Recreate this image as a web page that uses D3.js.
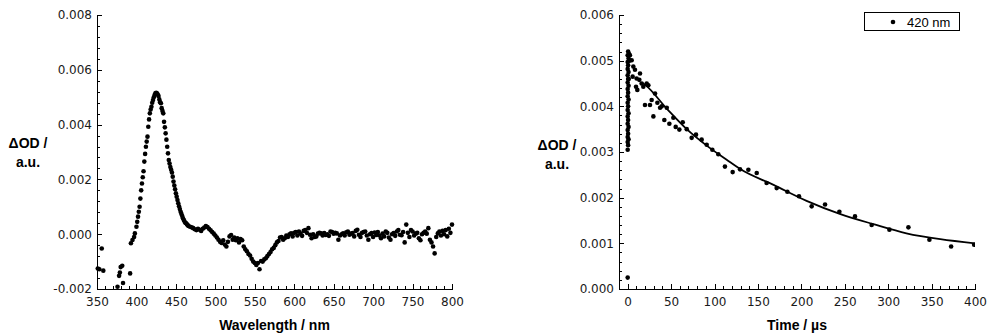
<!DOCTYPE html>
<html>
<head>
<meta charset="utf-8">
<script src="https://cdn.jsdelivr.net/npm/d3@7/dist/d3.min.js"></script>
<style>
  html, body { margin: 0; padding: 0; background: #fff; }
  svg { display: block; }
  .tick text { font-family: "DejaVu Sans", Verdana, sans-serif; font-size: 12px; fill: #1a1a1a; }
  .axis path, .axis line { stroke: #000; stroke-width: 1; shape-rendering: crispEdges; }
  .title { font-family: "Liberation Sans", Arial, sans-serif; font-size: 14px; font-weight: bold; fill: #000; }
</style>
</head>
<body>
<svg id="chart" width="988" height="333"></svg>
<script>
// transient spectrum: wavelength (nm) vs dOD (x1e-3)
const specNm = [351,353,356,358,376,378,379,380,382,383,392,
  393,395,397,398,400,401,402,403,404,405,406,407,408,409,410,411,412,413,414,415,416,417,418,419,420,421,422,423,424,425,426,427,428,429,430,431,432,433,434,435,436,437,438,439,440,441,442,443,444,445,446,447,448,449,450,451,452,453,454,455,456,457,458,459,460,461,462,463,464,465,466,468,
  470,472,474,476,478,480,482,484,486,488,490,492,494,496,498,500,502,504,506,508,510,512,514,516,518,520,522,524,526,528,530,532,534,536,538,540,542,544,546,548,550,552,554,556,558,560,562,564,566,568,570,572,574,576,578,580,582,584,586,588,590,592,594,596,598,600,602,604,606,608,610,612,614,616,618,620,622,624,626,628,630,632,634,636,638,640,642,644,646,648,650,652,654,656,658,660,662,664,666,668,670,672,674,676,678,680,682,684,686,688,690,692,694,696,698,700,702,704,706,708,710,712,714,716,718,720,722,724,726,728,730,732,734,736,738,740,742,744,746,748,750,752,754,756,758,760,762,764,766,768,770,772,774,776,778,780,782,784,786,788,790,792,794,796,798,800];
const specOD = [-1.25,-1.28,-0.52,-1.33,-1.92,-1.52,-1.4,-1.2,-1.15,-1.78,-1.43,
  -0.33,-0.21,-0.1,0.03,0.27,0.45,0.64,0.82,1.0,1.3,1.6,1.85,2.08,2.3,2.65,2.93,3.19,3.38,3.56,3.92,4.19,4.41,4.55,4.65,4.8,4.9,5.0,5.08,5.14,5.16,5.14,5.1,5.04,4.92,4.82,4.78,4.6,4.5,4.41,4.1,3.9,3.68,3.45,3.19,2.95,2.71,2.58,2.45,2.35,2.25,2.1,1.92,1.78,1.64,1.49,1.37,1.25,1.13,1.02,0.92,0.82,0.74,0.66,0.58,0.52,0.46,0.42,0.4,0.36,0.33,0.3,0.27,
  0.25,0.22,0.18,0.15,0.2,0.16,0.12,0.2,0.24,0.3,0.26,0.2,0.14,0.08,0.02,-0.05,-0.12,-0.2,-0.28,-0.32,-0.22,-0.38,-0.45,-0.28,-0.08,-0.03,-0.2,-0.12,-0.22,-0.15,-0.3,-0.18,-0.22,-0.45,-0.55,-0.62,-0.72,-0.78,-0.9,-1.0,-1.05,-1.12,-1.05,-1.28,-0.98,-1.0,-0.92,-0.88,-0.8,-0.72,-0.65,-0.55,-0.5,-0.4,-0.3,-0.25,-0.12,-0.1,-0.2,-0.15,-0.05,-0.1,0.0,0.03,-0.08,0.05,0.08,-0.05,0.1,0.02,-0.06,0.12,0.15,0.05,0.22,-0.02,-0.15,0.0,-0.1,-0.08,0.02,0.05,0.03,-0.05,0.04,-0.03,0.0,-0.06,0.1,0.08,0.02,0.05,0.03,-0.2,-0.05,0.0,0.03,-0.05,0.07,0.1,-0.02,0.02,0.04,-0.08,0.12,0.16,-0.02,-0.1,0.05,0.08,0.1,-0.05,-0.2,0.0,0.04,-0.1,0.06,-0.03,0.08,-0.05,-0.15,0.02,-0.08,0.1,0.05,-0.12,-0.2,0.0,0.04,-0.06,0.1,0.15,-0.02,-0.04,0.08,-0.3,0.35,0.05,-0.1,0.15,0.1,-0.05,0.02,0.05,-0.15,-0.22,0.0,0.05,0.1,0.02,0.22,-0.2,-0.3,-0.45,-0.7,-0.1,0.03,0.1,-0.05,0.12,0.0,0.15,-0.08,0.2,0.05,0.35];

// kinetic trace at 420 nm: time (us) vs dOD (x1e-3)
const traceT = [0,0,0.5,0,1,0,0.5,0,1,0,0.5,0,1,0,0.5,0,1,0,0.5,0,1,0,0.5,0,1,0,0.5,0,1,0,0.5,1.5,2,1.2,
  2.6,4.6,5.7,6.5,8.4,9.6,10.3,11.1,13.4,14.2,16.1,18,19.9,21.9,23.8,25.7,27.6,29.6,31.5,34.2,37.3,39.2,42.2,45,48,52.6,55.3,59.5,63.4,68,73.7,78.7,85.2,91,97.5,104.4,112,120.9,129.4,139,148.6,160,171.6,183.9,197.3,211.9,227.3,243.8,261.8,281,301.4,323.3,347.5,372.5,399];
const traceOD = [0.25,3.05,3.15,3.22,3.28,3.33,3.4,3.48,3.55,3.62,3.7,3.78,3.85,3.92,4.0,4.08,4.15,4.22,4.3,4.38,4.45,4.52,4.6,4.68,4.75,4.82,4.9,4.97,5.05,5.12,5.2,5.15,5.0,4.6,
  5.12,5.01,4.65,4.87,4.8,4.43,4.61,4.36,4.58,4.72,4.5,4.43,4.03,4.5,4.46,4.03,4.14,3.78,4.28,4.08,3.97,4.0,3.7,3.97,3.62,3.75,3.55,3.49,3.65,3.5,3.31,3.38,3.27,3.16,3.05,2.95,2.68,2.56,2.62,2.61,2.54,2.32,2.21,2.13,2.03,1.81,1.85,1.69,1.59,1.4,1.3,1.35,1.08,0.93,0.97];

// fitted decay curve
const fitT = [16,20,45,68,91,114,130,168,206,245,283,321,360,400];
const fitOD = [4.52,4.47,3.95,3.5,3.14,2.83,2.62,2.28,1.93,1.64,1.42,1.22,1.09,1.0];

const legendLabel = '420 nm';

const svg = d3.select('#chart');
const fmt = d => (d / 1000).toFixed(3);

function panel(opts) {
  const x = d3.scaleLinear().domain(opts.xDomain).range([opts.left, opts.right]);
  const y = d3.scaleLinear().domain(opts.yDomain).range([opts.bottom, opts.top]);

  // minor ticks
  svg.append('g').attr('class', 'axis').attr('transform', 'translate(' + opts.left + ',0)')
    .call(d3.axisLeft(y).tickValues(opts.yMinor).tickSize(-3).tickSizeOuter(0).tickFormat(''));
  svg.append('g').attr('class', 'axis').attr('transform', 'translate(0,' + opts.bottom + ')')
    .call(d3.axisBottom(x).tickValues(opts.xMinor).tickSize(-3).tickSizeOuter(0).tickFormat(''));
  // major ticks + labels
  svg.append('g').attr('class', 'axis').attr('transform', 'translate(' + opts.left + ',0)')
    .call(d3.axisLeft(y).tickValues(opts.yMajor).tickSize(-5).tickSizeOuter(0).tickPadding(5).tickFormat(fmt));
  svg.append('g').attr('class', 'axis').attr('transform', 'translate(0,' + opts.bottom + ')')
    .call(d3.axisBottom(x).tickValues(opts.xMajor).tickSize(-5).tickSizeOuter(0).tickPadding(8));

  svg.append('text').attr('class', 'title').attr('text-anchor', 'middle')
    .attr('x', (opts.left + opts.right) / 2).attr('y', 330).text(opts.xTitle);
  const yt = svg.append('text').attr('class', 'title').attr('text-anchor', 'middle');
  yt.append('tspan').attr('x', opts.yTitleX).attr('y', opts.yTitleY).text('\u0394OD /');
  yt.append('tspan').attr('x', opts.yTitleX).attr('y', opts.yTitleY + 19).text('a.u.');
  return { x, y };
}

// left: spectrum
const L = panel({
  left: 97, right: 452, top: 15, bottom: 289,
  xDomain: [350, 800], yDomain: [-2, 8],
  xMajor: d3.range(350, 801, 50), xMinor: d3.range(350, 801, 10),
  yMajor: d3.range(-2, 8.01, 2), yMinor: d3.range(-2, 8.01, 0.4),
  xTitle: 'Wavelength / nm', yTitleX: 28, yTitleY: 148
});
svg.append('g').selectAll('circle').data(specNm).join('circle')
  .attr('cx', d => L.x(d)).attr('cy', (d, i) => L.y(specOD[i])).attr('r', 2.3).attr('fill', '#000');

// right: kinetic trace
const R = panel({
  left: 619, right: 975, top: 15, bottom: 289,
  xDomain: [-10, 400], yDomain: [0, 6],
  xMajor: d3.range(0, 401, 50), xMinor: d3.range(0, 401, 10),
  yMajor: d3.range(0, 6.01, 1), yMinor: d3.range(0, 6.01, 0.2),
  xTitle: 'Time / \u00b5s', yTitleX: 557, yTitleY: 150
});
svg.append('clipPath').attr('id', 'clipR').append('rect')
  .attr('x', 619).attr('y', 0).attr('width', 975 - 619).attr('height', 289);
const gR = svg.append('g').attr('clip-path', 'url(#clipR)');
gR.append('path').datum(fitT)
  .attr('fill', 'none').attr('stroke', '#000').attr('stroke-width', 1.8)
  .attr('d', d3.line().x(d => R.x(d)).y((d, i) => R.y(fitOD[i])).curve(d3.curveMonotoneX));
gR.selectAll('circle').data(traceT).join('circle')
  .attr('cx', d => R.x(d)).attr('cy', (d, i) => R.y(traceOD[i])).attr('r', 2.3).attr('fill', '#000');

// legend
const lg = svg.append('g');
lg.append('rect').attr('x', 864.5).attr('y', 12.5).attr('width', 95).attr('height', 18)
  .attr('fill', '#fff').attr('stroke', '#000').attr('stroke-width', 1);
lg.append('circle').attr('cx', 893).attr('cy', 22).attr('r', 2.3).attr('fill', '#000');
lg.append('text').attr('x', 907).attr('y', 27)
  .style('font-family', '"Liberation Sans", Arial, sans-serif').style('font-size', '13px')
  .text(legendLabel);
</script>
</body>
</html>
